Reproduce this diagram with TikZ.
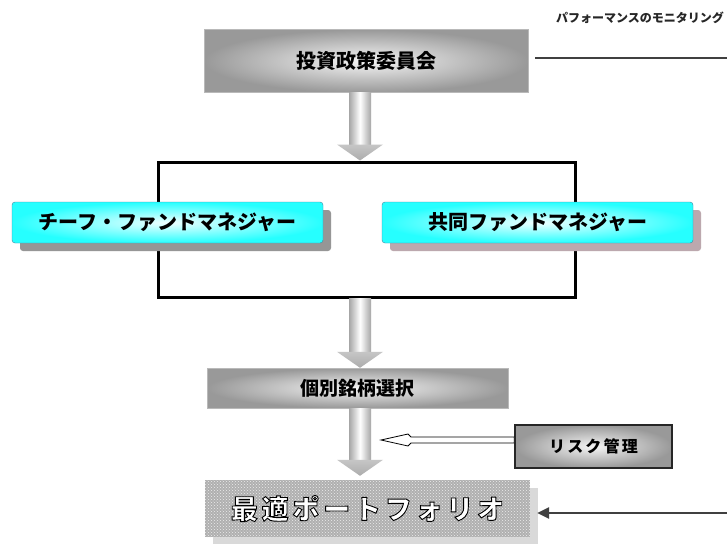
\documentclass[tikz,border=0pt]{standalone}
\usepackage{fontspec}
\newfontfamily\jp{Noto Sans CJK JP}
\newfontfamily\jpwide{Noto Sans CJK JP}[LetterSpace=14]
\usetikzlibrary{calc,patterns,arrows.meta,shadows}
\definecolor{jshadow}{RGB}{188,168,174}
\definecolor{cshadow}{RGB}{150,150,150}
\newcommand\hollowtext[1]{{\color{white}\special{pdf:code 0 0 0 RG 2 Tr 0.9 w}#1\special{pdf:code 0 Tr}}}
\tikzset{
  graybox/.style={draw=gray!55, inner color=gray!8, outer color=gray!80, inner sep=0pt},
  cyanbox/.style={draw=cyan!60!black, rounded corners=3pt, inner color=cyan!6, outer color=cyan!85,
    minimum width=311pt, minimum height=41pt, inner sep=0pt,
    font=\jp\bfseries\fontsize{20}{22}\selectfont},
  shaftshade/.style={left color=gray!70, right color=gray!70, middle color=white},
  headshade/.style={top color=gray!45, bottom color=gray!65},
  connline/.style={line width=2.5pt, draw=black!75},
}
\newcommand\blockarr[2]{%
  \path[shaftshade] let \p1=#1, \p2=#2 in
    (\x1-11pt,\y1) rectangle (\x1+11pt,\y2+16pt);
  \path[headshade] let \p1=#1, \p2=#2 in
    (\x1-23pt,\y2+16pt) -- (\x1+23pt,\y2+16pt) -- (\x1,\y2) -- cycle;
}
\begin{document}
\begin{tikzpicture}[x=1pt,y=-1pt]
\useasboundingbox[fill=white] (0,0) rectangle (727,543);

% frame behind the two manager boxes
\node[draw, line width=3pt, minimum width=417pt, minimum height=135pt, inner sep=0pt] (frame) at (366.5,229.5) {};

\coordinate (axis) at (360,0);

% top committee box
\node[graybox, minimum width=324pt, minimum height=63pt,
      font=\jp\bfseries\fontsize{20}{22}\selectfont] (top) at (366,61) {投資政策委員会};

% monitoring label
\node[anchor=west, inner sep=0pt, font=\jp\bfseries\fontsize{12}{14}\selectfont, text=black!85] (mon) at (556,18) {パフォーマンスのモニタリング};

% manager boxes
\node[cyanbox, drop shadow={shadow xshift=8pt, shadow yshift=-8pt, fill=cshadow, opacity=1}] (chief) at (167.5,222.5) {チーフ・ファンドマネジャー};
\node[cyanbox, drop shadow={shadow xshift=8pt, shadow yshift=-8pt, fill=jshadow, opacity=1}] (joint) at (537.5,222.5) {共同ファンドマネジャー};

% stock selection
\node[graybox, minimum width=301pt, minimum height=40pt,
      font=\jp\bfseries\fontsize{19}{21}\selectfont] (select) at (357.5,388) {個別銘柄選択};

% risk management
\node[draw=black!85, line width=1.5pt, inner color=gray!8, outer color=gray!80, inner sep=0pt,
      minimum width=157pt, minimum height=43pt,
      font=\jpwide\bfseries\fontsize{16}{18}\selectfont] (risk) at (593.5,446.5) {リスク管理};

% optimal portfolio
\node[fill=gray!62, postaction={pattern=crosshatch dots, pattern color=white!85!gray},
      drop shadow={shadow xshift=8pt, shadow yshift=-8pt, fill=gray!30, opacity=1},
      minimum width=325pt, minimum height=57pt, inner sep=0pt,
      font=\jpwide\bfseries\fontsize{27}{29}\selectfont] (final) at (367.5,508.5)
      {\hollowtext{最適ポートフォリオ}};

% block arrows
\blockarr{(top.south -| axis)}{(frame.north -| axis)}
\blockarr{(frame.south -| axis)}{(select.north -| axis)}
\blockarr{(select.south -| axis)}{($(final.north -| axis)+(0,-4)$)}

% hollow arrow from risk management
\coordinate (rtip) at (381,440);
\draw[fill=white, line width=0.8pt] let \p1=(risk.west |- rtip), \p2=(rtip) in
  (\x1,\y1+3pt) -- (\x2+30pt,\y1+3pt) -- (\x2+27pt,\y1+6pt) -- (\x2,\y2)
  -- (\x2+27pt,\y1-6pt) -- (\x2+30pt,\y1-3pt) -- (\x1,\y1-3pt) -- cycle;

% monitoring lines
\coordinate (tend) at (727,58);
\draw[connline] ([xshift=7pt]top.east |- tend) -- (tend);
\coordinate (rend) at (727,513);
\draw[connline, shorten >=7pt, -{Triangle[length=12pt,width=11pt]}] (rend) -- (final.east |- rend);
\end{tikzpicture}
\end{document}
